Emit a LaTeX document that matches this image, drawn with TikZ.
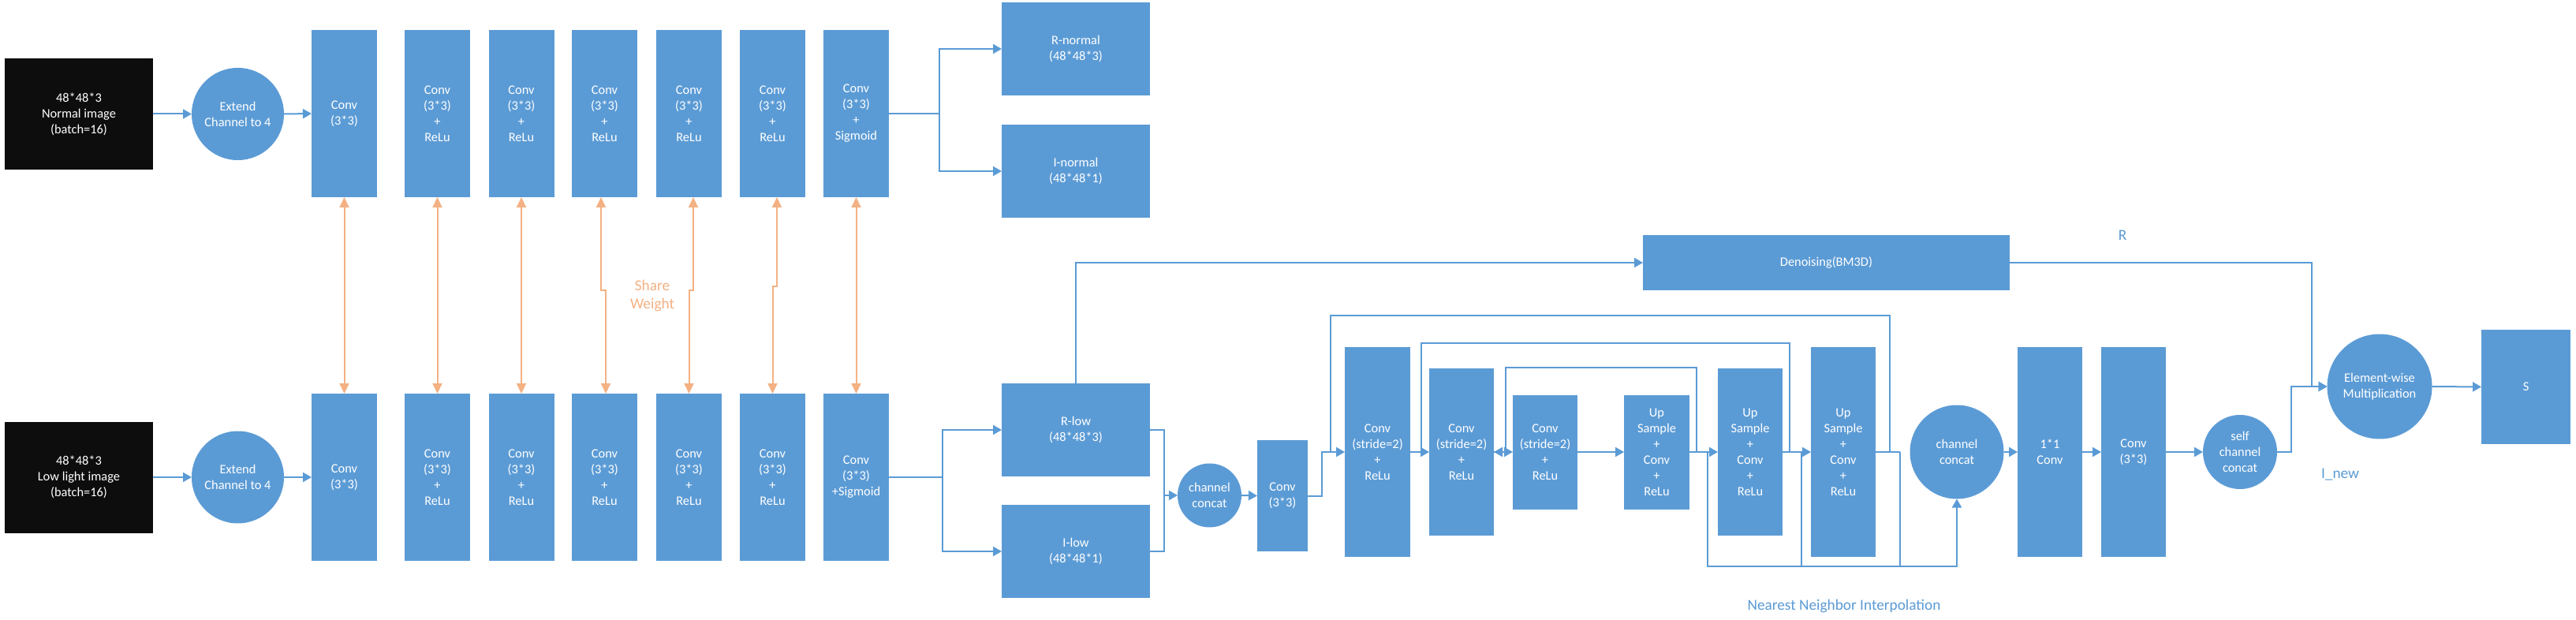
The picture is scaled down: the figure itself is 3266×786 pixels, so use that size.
\documentclass[tikz,border=0pt]{standalone}
\usepackage{fontspec}
\setmainfont{Carlito}
\usetikzlibrary{arrows.meta}
\definecolor{bblue}{RGB}{91,155,213}
\definecolor{orng}{RGB}{244,177,131}
\definecolor{ink}{RGB}{13,13,13}
\newcommand\fsA{\fontsize{8.2}{10}\selectfont}
\newcommand\fsB{\fontsize{9.65}{11.7}\selectfont}
\tikzset{
  blk/.style={rectangle, fill=bblue, text=white, align=center, font=\fsA, inner sep=0pt, outer sep=0pt},
  convblk/.style={blk, minimum width=41.5pt, minimum height=106pt},
  outblk/.style={blk, minimum width=94pt, minimum height=59pt},
  inbox/.style={blk, fill=ink, minimum width=94pt, minimum height=70.5pt},
  circ/.style={circle, fill=bblue, text=white, align=center, font=\fsA, inner sep=0pt, outer sep=0pt},
  lbl/.style={font=\fsB, text=bblue, inner sep=0pt, align=center},
  olbl/.style={font=\fsB, text=orng, inner sep=0pt, align=center},
  conn/.style={draw=bblue, line width=1pt},
  arr/.style={conn, -{Triangle[length=5.5pt,width=6pt]}},
  arrback/.style={conn, {Triangle[length=5.5pt,width=6pt]}-},
  oarr/.style={draw=orng, line width=1pt, {Triangle[length=6.5pt,width=6pt]}-{Triangle[length=6.5pt,width=6pt]}}
}
\begin{document}
\begin{tikzpicture}[x=0.5pt,y=-0.5pt]
\useasboundingbox (0,0) rectangle (3266,786);
\fill[white] (0,0) rectangle (3266,786);

% ---------- inputs ----------
\node[inbox] (in1) at (100,144.5) {48*48*3\\Normal image\\(batch=16)};
\node[inbox] (in2) at (100,605) {48*48*3\\Low light image\\(batch=16)};
\node[circ, minimum size=58.5pt] (e1) at (301.5,144.5) {Extend\\Channel to 4};
\node[circ, minimum size=58.5pt] (e2) at (301.5,605) {Extend\\Channel to 4};

% ---------- top decomposition row ----------
\node[convblk] (t1) at (436.5,144) {Conv\\(3*3)};
\node[convblk] (t2) at (554.5,144) {Conv\\(3*3)\\+\\ReLu};
\node[convblk] (t3) at (661,144) {Conv\\(3*3)\\+\\ReLu};
\node[convblk] (t4) at (766.5,144) {Conv\\(3*3)\\+\\ReLu};
\node[convblk] (t5) at (873.5,144) {Conv\\(3*3)\\+\\ReLu};
\node[convblk] (t6) at (979.5,144) {Conv\\(3*3)\\+\\ReLu};
\node[convblk] (t7) at (1085.5,144) {Conv\\(3*3)\\+\\Sigmoid};

% ---------- bottom decomposition row ----------
\node[convblk] (b1) at (436.5,605) {Conv\\(3*3)};
\node[convblk] (b2) at (554.5,605) {Conv\\(3*3)\\+\\ReLu};
\node[convblk] (b3) at (661,605) {Conv\\(3*3)\\+\\ReLu};
\node[convblk] (b4) at (766.5,605) {Conv\\(3*3)\\+\\ReLu};
\node[convblk] (b5) at (873.5,605) {Conv\\(3*3)\\+\\ReLu};
\node[convblk] (b6) at (979.5,605) {Conv\\(3*3)\\+\\ReLu};
\node[convblk] (b7) at (1085.5,605) {Conv\\(3*3)\\+Sigmoid};

% ---------- decomposition outputs ----------
\node[outblk] (rn) at (1364,62) {R-normal\\(48*48*3)};
\node[outblk] (inorm) at (1364,217) {I-normal\\(48*48*1)};
\node[outblk] (rl) at (1364,545) {R-low\\(48*48*3)};
\node[outblk] (il) at (1364,699) {I-low\\(48*48*1)};

% ---------- enhancement net ----------
\node[blk, minimum width=232.5pt, minimum height=35pt] (dn) at (2315.5,333) {Denoising(BM3D)};
\node[circ, minimum size=40.5pt] (cc1) at (1533.5,628) {channel\\concat};
\node[blk, minimum width=32pt, minimum height=70.5pt] (cs) at (1626,628.5) {Conv\\(3*3)};
\node[blk, minimum width=41.5pt, minimum height=133pt] (s1) at (1746.5,573) {Conv\\(stride=2)\\+\\ReLu};
\node[blk, minimum width=41pt, minimum height=106pt] (s2) at (1853,573) {Conv\\(stride=2)\\+\\ReLu};
\node[blk, minimum width=41pt, minimum height=72.5pt] (s3) at (1959,573) {Conv\\(stride=2)\\+\\ReLu};
\node[blk, minimum width=41.5pt, minimum height=72.5pt] (u1) at (2100.5,573) {Up\\Sample\\+\\Conv\\+\\ReLu};
\node[blk, minimum width=41pt, minimum height=106pt] (u2) at (2219,573) {Up\\Sample\\+\\Conv\\+\\ReLu};
\node[blk, minimum width=41pt, minimum height=133pt] (u3) at (2337,573) {Up\\Sample\\+\\Conv\\+\\ReLu};
\node[circ, minimum size=59.5pt] (cc2) at (2481,573) {channel\\concat};
\node[blk, minimum width=41pt, minimum height=133pt] (c11) at (2599,573) {1*1\\Conv};
\node[blk, minimum width=41pt, minimum height=133pt] (c33) at (2705,573) {Conv\\(3*3)};
\node[circ, minimum size=47pt] (sc) at (2840,573) {self\\channel\\concat};
\node[circ, minimum size=66.5pt] (ew) at (3017,490) {Element-wise\\Multiplication};
\node[blk, minimum width=56.5pt, minimum height=72.5pt] (S) at (3202.5,490.5) {S};

% ---------- labels ----------
\node[olbl] (sw) at (827,375) {Share\\Weight};
\node[lbl] (lR) at (2691,298) {R};
\node[lbl] (lI) at (2967,602) {I\_new};
\node[lbl] (lN) at (2338,768) {Nearest Neighbor Interpolation};

% ---------- connectors: inputs ----------
\draw[arr] (in1.east) -- (e1.west);
\draw[arr] (e1.east) -- (t1.west);
\draw[arr] (in2.east) -- (e2.west);
\draw[arr] (e2.east) -- (b1.west);

% ---------- shared weights ----------
\draw[oarr] (t1.south) -- (b1.north);
\draw[oarr] (t2.south) -- (b2.north);
\draw[oarr] (t3.south) -- (b3.north);
\draw[oarr] ([xshift=-2.25pt]t4.south) -- ++(0,118) -| ([xshift=0.75pt]b4.north);
\draw[oarr] ([xshift=2.75pt]t5.south) -- ++(0,118) -| (b5.north);
\draw[oarr] ([xshift=2.75pt]t6.south) -- ++(0,113) -| (b6.north);
\draw[oarr] (t7.south) -- (b7.north);

% ---------- forks ----------
\coordinate (f1) at (1191,144);
\draw[arr] (t7.east) -- (f1) |- (rn.west);
\draw[arr] (f1) |- (inorm.west);
\coordinate (f2) at (1195,605);
\draw[arr] (b7.east) -- (f2) |- (rl.west);
\draw[arr] (f2) |- (il.west);

% ---------- enhancement connectors ----------
\draw[arr] (rl.north) |- (dn.west);
\coordinate (j1) at (1476,628);
\draw[conn] (rl.east) -| (j1);
\draw[conn] (il.east) -| (j1);
\draw[arr] (j1) -- (cc1.west);
\draw[arr] (cc1.east) -- (cs.west);
\draw[arr] (cs.east) -- ++(18,0) |- (s1.west);
\draw[arr] (s1.east) -- (s2.west);
\draw[arr] (s2.east) -- (s3.west);
\draw[arr] (s3.east) -- (u1.west);
\draw[arr] (u1.east) -- (u2.west);
\draw[arr] (u2.east) -- (u3.west);
\coordinate (n3) at (2409,573);
\draw[conn] (u3.east) -- (n3);

% skip connections
\coordinate (k1a) at (1687,573); \coordinate (k1b) at (2396,573);
\draw[conn] (k1a) -- ++(0,-173) -| (k1b);
\coordinate (k2a) at (1802,573); \coordinate (k2b) at (2269,573);
\draw[conn] (k2a) -- ++(0,-138) -| (k2b);
\coordinate (k3a) at (1909,573); \coordinate (k3b) at (2151,573);
\draw[arrback] (s2.east) -- (k3a) -- ++(0,-107) -| (k3b);

% nearest neighbour interpolation paths
\coordinate (n1) at (2165,573);
\coordinate (n2) at (2284,573);
\coordinate (nb) at (2481,718);
\draw[arr] (n1) |- (nb) -- (cc2.south);
\draw[conn] (n2) -- (n2 |- nb);
\draw[conn] (n3) -- (n3 |- nb);

\draw[arr] (cc2.east) -- (c11.west);
\draw[arr] (c11.east) -- (c33.west);
\draw[arr] (c33.east) -- (sc.west);
\draw[arr] (sc.east) -- ++(18,0) |- (ew.west);
\coordinate (rj) at (2931,333);
\draw[arr] (dn.east) -- (rj) |- (ew.west);
\draw[arr] (ew.east) -- (S.west);
\end{tikzpicture}
\end{document}
